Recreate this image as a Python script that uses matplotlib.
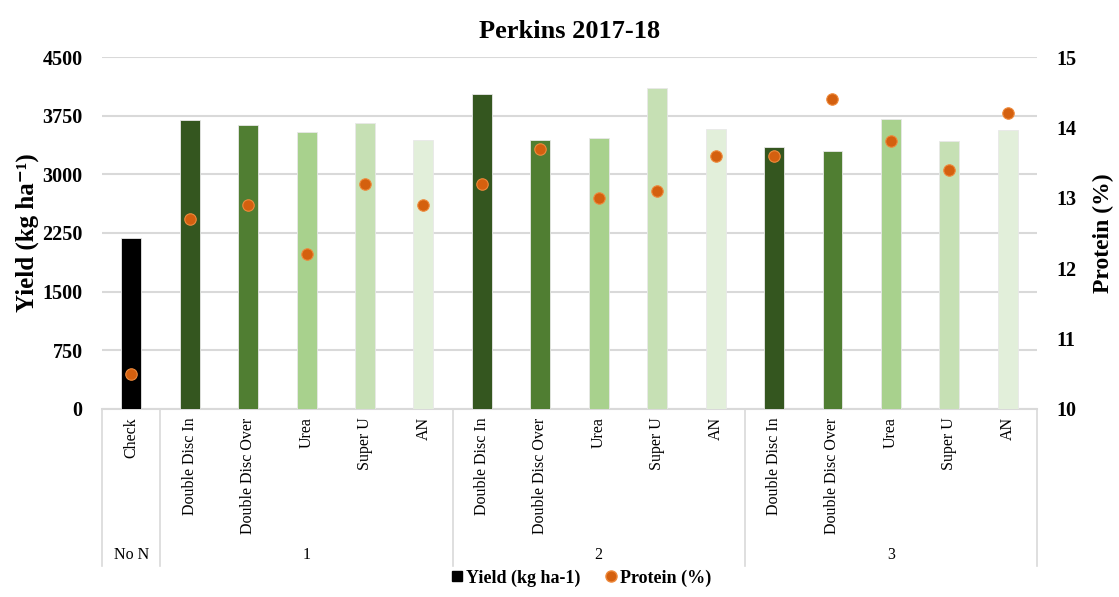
import matplotlib.pyplot as plt
import matplotlib.transforms as mtransforms
from matplotlib.lines import Line2D
import numpy as np

plt.rcParams["font.family"] = ["Liberation Serif", "DejaVu Serif"]

# data
groups = ["No N", "1", "2", "3"]
group_sizes = [1, 5, 5, 5]
categories = ["Check",
              "Double Disc In", "Double Disc Over", "Urea", "Super U", "AN",
              "Double Disc In", "Double Disc Over", "Urea", "Super U", "AN",
              "Double Disc In", "Double Disc Over", "Urea", "Super U", "AN"]
yield_kg = [2180,
            3690, 3630, 3545, 3650, 3440,
            4025, 3445, 3460, 4100, 3585,
            3345, 3300, 3710, 3420, 3570]
protein = [10.5,
           12.7, 12.9, 12.2, 13.2, 12.9,
           13.2, 13.7, 13.0, 13.1, 13.6,
           13.6, 14.4, 13.8, 13.4, 14.2]

method_colors = ["#34561f", "#507e32", "#a8d18d", "#c6e0b4", "#e2efda"]
bar_colors = ["#000000"] + method_colors * 3

fig = plt.figure(figsize=(11.19, 5.97), dpi=100)
ax = fig.add_axes([0.0912, 0.315, 0.8355, 0.5895])
ax2 = ax.twinx()

x = np.arange(len(categories))
ax.bar(x, yield_kg, width=0.34, color=bar_colors, edgecolor="#e8e8e8",
       linewidth=0.6, zorder=3)
ax2.scatter(x, protein, s=68, color="#d4600f", edgecolors="#ee8a3c",
            linewidths=0.8, zorder=5)

ax.set_xlim(-0.5, len(categories) - 0.5)
ax.set_ylim(0, 4500)
ax.set_yticks(np.arange(0, 4501, 750))
ax2.set_ylim(10, 15)
ax2.set_yticks(np.arange(10, 16, 1))

ax.grid(axis="y", color="#d9d9d9", linewidth=1.5, zorder=0)
ax.set_axisbelow(True)
for a in (ax, ax2):
    for s in a.spines.values():
        s.set_visible(False)
    a.tick_params(length=0)
ax.spines["bottom"].set_visible(True)
ax.spines["bottom"].set_color("#d9d9d9")
ax.spines["bottom"].set_linewidth(1.5)

ax.tick_params(axis="y", pad=14, labelsize=14.5)
ax2.tick_params(axis="y", pad=14, labelsize=14.5)
for lab in ax.get_yticklabels() + ax2.get_yticklabels():
    lab.set_fontweight("bold")

ax.set_xticks(x)
ax.set_xticklabels(categories, rotation=90, fontsize=11.5)
ax.tick_params(axis="x", pad=6)

ax.set_ylabel("Yield (kg ha\u207b\u00b9)", fontsize=18, fontweight="bold", labelpad=2)
ax2.set_ylabel("Protein (%)", fontsize=17, fontweight="bold", labelpad=12)
ax.set_title("Perkins 2017-18", fontsize=19, fontweight="bold", pad=14)

# group separators and group labels under the category labels
trans = mtransforms.blended_transform_factory(ax.transData, ax.transAxes)
edges = np.concatenate([[0], np.cumsum(group_sizes)]) - 0.5
for e in edges:
    ax.plot([e, e], [0, -0.445], transform=trans, color="#d9d9d9",
            linewidth=1.2, clip_on=False)
for g, lo, hi in zip(groups, edges[:-1], edges[1:]):
    ax.text((lo + hi) / 2, -0.415, g, transform=trans, ha="center",
            va="center", fontsize=11.5)

handles = [Line2D([], [], marker="s", linestyle="", color="black", markersize=7),
           Line2D([], [], marker="o", linestyle="", color="#d4600f",
                  markeredgecolor="#ee8a3c", markersize=8)]
fig.legend(handles, ["Yield (kg ha-1)", "Protein (%)"], loc="center",
           bbox_to_anchor=(0.518, 0.032), ncol=2, frameon=False,
           prop={"weight": "bold", "size": 13}, handletextpad=0.0,
           handlelength=1.0, columnspacing=1.2)

fig.savefig("out.png", dpi=100)
